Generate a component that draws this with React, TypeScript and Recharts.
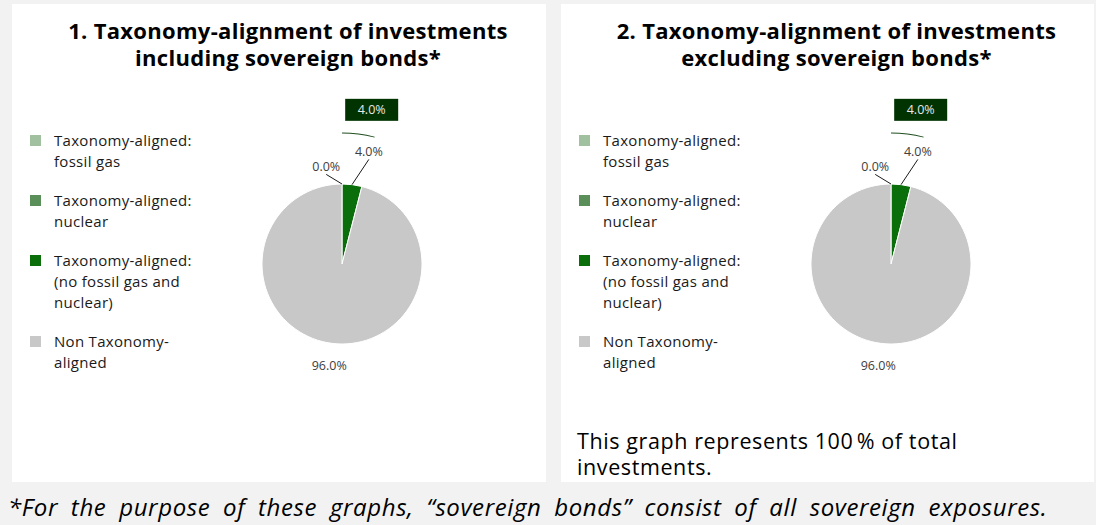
import { PieChart, Pie, Cell } from 'recharts';

const CATEGORIES = [
  'Taxonomy-aligned:\nfossil gas',
  'Taxonomy-aligned:\nnuclear',
  'Taxonomy-aligned:\n(no fossil gas and\nnuclear)',
  'Non Taxonomy-\naligned',
];
const COLORS = ['#a0c0a0', '#5a8f5a', '#0a6e0a', '#c8c8c8'];

const INCL_VALUES = [0, 0, 4, 96];
const EXCL_VALUES = [0, 0, 4, 96];

const TITLES = [
  '1. Taxonomy-alignment of investments\nincluding sovereign bonds*',
  '2. Taxonomy-alignment of investments\nexcluding sovereign bonds*',
];
const NOTE = 'This graph represents 100\u202f% of total investments.';
const FOOTNOTE = '*For the purpose of these graphs, \u201csovereign bonds\u201d consist of all sovereign exposures.';

const FONT = '"Open Sans", sans-serif';
const RAD = Math.PI / 180;

const pt = (cx: number, cy: number, r: number, deg: number) => ({
  x: cx + r * Math.cos(-deg * RAD),
  y: cy + r * Math.sin(-deg * RAD),
});

function SliceLabel(props: any) {
  const { cx, cy, midAngle, outerRadius, index, value } = props;
  const txt = `${value.toFixed(1)}%`;
  if (index === 1) return null;
  if (index === 3) {
    const p = pt(cx, cy, outerRadius + 22, midAngle);
    return (
      <text x={p.x} y={p.y} textAnchor="middle" dominantBaseline="central" fontSize={12.5} fill="#404040" fontFamily={FONT}>
        {txt}
      </text>
    );
  }
  const a = pt(cx, cy, outerRadius, midAngle);
  const b = index === 0 ? pt(cx, cy, outerRadius + 11, midAngle + 10) : pt(cx, cy, outerRadius + 28, midAngle - 7.2);
  return (
    <g>
      <line x1={a.x} y1={a.y} x2={b.x} y2={b.y} stroke="#1a1a1a" strokeWidth={1} />
      <text x={b.x} y={b.y - 8} textAnchor="middle" dominantBaseline="central" fontSize={12.5} fill="#404040" fontFamily={FONT}>
        {txt}
      </text>
    </g>
  );
}

function BoxLabel(props: any) {
  const { cx, cy, midAngle, index, value } = props;
  if (index !== 2) return null;
  const p = pt(cx, cy, 157, midAngle - 3.7);
  return (
    <g>
      <rect x={p.x - 26.5} y={p.y - 11} width={53} height={22} fill="#003300" />
      <text x={p.x} y={p.y} textAnchor="middle" dominantBaseline="central" fontSize={12.5} fill="#e8e8e8" fontFamily={FONT}>
        {`${value.toFixed(1)}%`}
      </text>
    </g>
  );
}

function Panel({ left, width, title, values, note }: { left: number; width: number; title: string; values: number[]; note?: string }) {
  const data = CATEGORIES.map((name, i) => ({ name, value: values[i] }));
  return (
    <div style={{ position: 'absolute', left, top: 4, width, height: 478, background: '#fff' }}>
      <div
        style={{
          position: 'absolute', left: 18, right: 0, top: 13, textAlign: 'center', whiteSpace: 'pre-line',
          fontFamily: FONT, fontWeight: 700, fontSize: 22, letterSpacing: 0.3, lineHeight: '27px', color: '#000',
        }}
      >
        {title}
      </div>
      <div style={{ position: 'absolute', left: 18, top: 126, fontFamily: FONT, fontSize: 15, letterSpacing: 0.3, lineHeight: '21px', color: '#1a1a1a' }}>
        {data.map((d, i) => (
          <div key={d.name} style={{ position: 'relative', paddingLeft: 24, marginBottom: 18, whiteSpace: 'pre-line' }}>
            <span style={{ position: 'absolute', left: 0, top: 5, width: 11, height: 11, background: COLORS[i] }} />
            {d.name}
          </div>
        ))}
      </div>
      <div style={{ position: 'absolute', left: 0, top: 0 }}>
        <PieChart width={width} height={420}>
          <Pie
            data={data}
            dataKey="value"
            cx={325}
            cy={255}
            outerRadius={80}
            startAngle={90}
            endAngle={-270}
            stroke="#fff"
            strokeWidth={1}
            label={SliceLabel}
            labelLine={false}
            isAnimationActive={false}
          >
            {data.map((d, i) => <Cell key={d.name} fill={COLORS[i]} />)}
          </Pie>
          <Pie
            data={data}
            dataKey="value"
            cx={325}
            cy={255}
            innerRadius={130.5}
            outerRadius={131.5}
            startAngle={90}
            endAngle={-270}
            stroke="none"
            label={BoxLabel}
            labelLine={false}
            isAnimationActive={false}
          >
            {data.map((d, i) => <Cell key={d.name} fill={i === 2 ? '#1f4f1f' : 'transparent'} />)}
          </Pie>
        </PieChart>
      </div>
      {note && (
        <div style={{ position: 'absolute', left: 16, top: 424, width: 470, fontFamily: FONT, fontSize: 21.5, letterSpacing: 0.6, lineHeight: '26px', color: '#000' }}>
          {note}
        </div>
      )}
    </div>
  );
}

export default function App() {
  return (
    <div style={{ position: 'fixed', left: 0, top: 0, width: 1096, height: 525, background: '#f2f2f2', overflow: 'hidden' }}>
      <Panel left={12} width={534} title={TITLES[0]} values={INCL_VALUES} />
      <Panel left={561} width={533} title={TITLES[1]} values={EXCL_VALUES} note={NOTE} />
      <div
        style={{
          position: 'absolute', left: 8, top: 491, fontFamily: FONT, fontStyle: 'italic', fontSize: 24,
          letterSpacing: 0.6, wordSpacing: 6, lineHeight: '32px', color: '#000', whiteSpace: 'nowrap',
        }}
      >
        {FOOTNOTE}
      </div>
    </div>
  );
}
